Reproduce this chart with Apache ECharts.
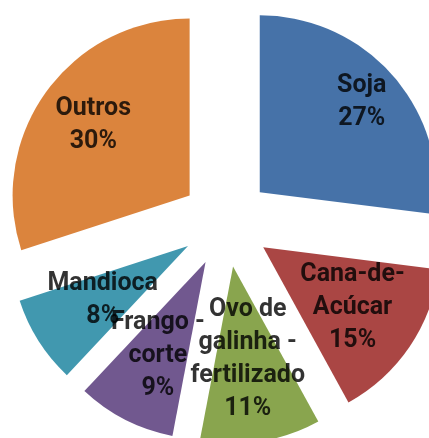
<!DOCTYPE html>
<html><head><meta charset="utf-8">
<script src="https://cdn.jsdelivr.net/npm/echarts@6/dist/echarts.min.js"></script>
<style>html,body{margin:0;padding:0;background:#fff}#c{width:429px;height:438px}</style>
</head><body><div id="c"></div>
<script>
const categories = ["Soja", "Cana-de-\nAcúcar", "Ovo de\ngalinha -\nfertilizado", "Frango -\ncorte", "Mandioca", "Outros"];
const values = [27, 15, 11, 9, 8, 30];
const colors = ["#4672A8", "#AA4644", "#89A54E", "#71588F", "#4198AF", "#DB843D"];
// style: distance of each label from the pie centre (px)
const labelRadius = [181, 153, 139, 150, 146, 164];

const total = values.reduce((a, b) => a + b, 0);
let acc = 0;
const mids = values.map(v => { const m = acc + v / 2; acc += v; return m; });

const CX = 226, CY = 222, R = 177, OFF = 45;
const chart = echarts.init(document.getElementById('c'), null, {renderer:'canvas'});
const font = "Roboto, 'Liberation Sans', sans-serif";
chart.setOption({
  animation: false,
  polar: { center: [CX, CY], radius: R + OFF },
  angleAxis: { type: 'value', min: 0, max: total, startAngle: 90, clockwise: true, show: false },
  radiusAxis: { type: 'value', min: 0, max: R + OFF, show: false },
  series: [
    {
      type: 'pie', center: [CX, CY], radius: R, startAngle: 90, clockwise: true,
      selectedMode: 'multiple', selectedOffset: OFF,
      label: { show: false }, labelLine: { show: false },
      emphasis: { disabled: true }, silent: true,
      data: categories.map((c, i) => ({ name: c, value: values[i], selected: true,
        itemStyle: { color: colors[i] } }))
    },
    {
      type: 'scatter', coordinateSystem: 'polar', symbolSize: 1, z: 5, silent: true,
      itemStyle: { color: 'rgba(0,0,0,0)' },
      label: {
        show: true, position: 'inside', color: '#000', fontWeight: 'bold',
        fontFamily: font, fontSize: 25, lineHeight: 33, align: 'center', verticalAlign: 'middle',
        formatter: p => categories[p.dataIndex] + '\n' + Math.round(values[p.dataIndex] / total * 100) + '%'
      },
      data: mids.map((m, i) => [labelRadius[i], m])
    }
  ]
});
</script></body></html>
